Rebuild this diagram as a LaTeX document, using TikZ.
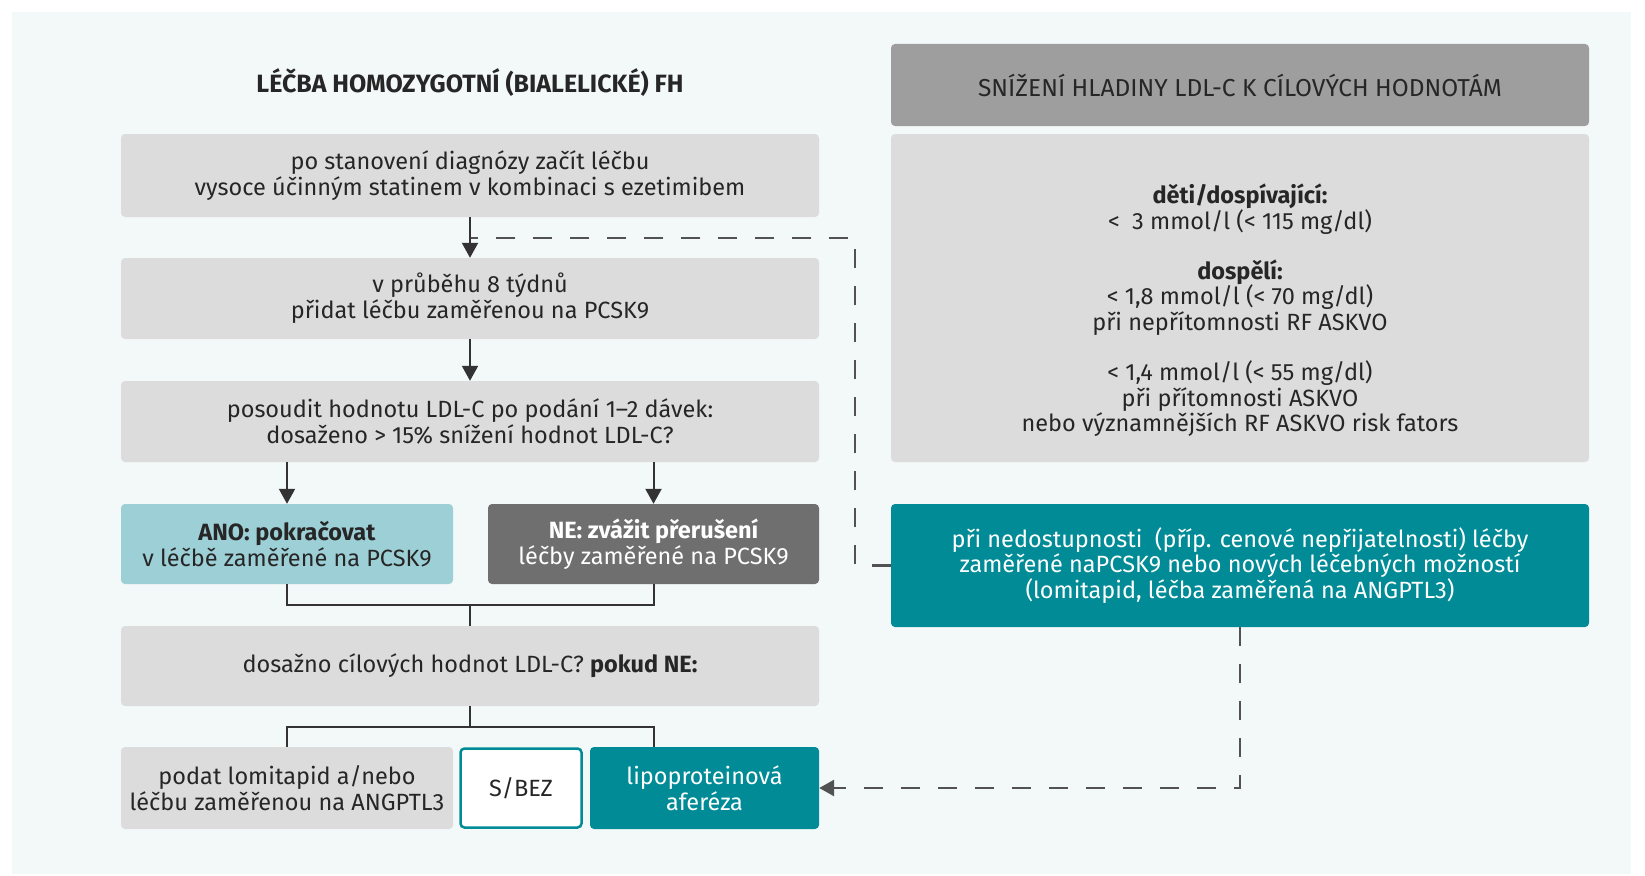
\documentclass[tikz,border=0pt]{standalone}
\usepackage{fontspec}
\setmainfont{Fira Sans}
\usetikzlibrary{arrows.meta}
\definecolor{bgc}{HTML}{F3F8F8}
\definecolor{boxgray}{HTML}{DCDCDC}
\definecolor{hdrgray}{HTML}{9E9E9E}
\definecolor{darkgray}{HTML}{6F6F6F}
\definecolor{lightblue}{HTML}{9DCFD6}
\definecolor{tealc}{HTML}{008B96}
\definecolor{txt}{HTML}{262626}
\definecolor{linec}{HTML}{333333}
\tikzset{
  basebox/.style={rounded corners=4pt, inner sep=0pt, align=center, text=txt,
    font=\fontsize{23.5}{25.7}\selectfont},
  graybox/.style={basebox, fill=boxgray},
  tip/.style={-{Triangle[width=16pt,length=15pt]}},
  arr/.style={line width=2pt, draw=linec, tip},
  conn/.style={line width=2pt, draw=linec},
  dashline/.style={line width=2.8pt, draw=linec!85, dash pattern=on 19pt off 18pt},
}
\begin{document}
\begin{tikzpicture}[x=1pt,y=-1pt]
\useasboundingbox (0,0) rectangle (1645,875);
\fill[bgc] (12,12) rectangle (1631,874);

\node[font=\fontsize{25}{27}\selectfont\bfseries, text=txt] (title) at (470,83) {LÉČBA HOMOZYGOTNÍ (BIALELICKÉ) FH};

\node[graybox, minimum width=698pt, minimum height=83pt] (b1) at (470,175.5)
  {po stanovení diagnózy začít léčbu\\vysoce účinným statinem v kombinaci s ezetimibem};
\node[graybox, minimum width=698pt, minimum height=81pt] (b2) at (470,298.5)
  {v průběhu 8 týdnů\\přidat léčbu zaměřenou na PCSK9};
\node[graybox, minimum width=698pt, minimum height=81pt] (b3) at (470,421.5)
  {posoudit hodnotu LDL-C po podání 1–2 dávek:\\dosaženo > 15\% snížení hodnot LDL-C?};
\node[basebox, fill=lightblue, minimum width=332pt, minimum height=80pt] (ano) at (287,544)
  {\textbf{ANO: pokračovat}\\v léčbě zaměřené na PCSK9};
\node[basebox, fill=darkgray, text=white, minimum width=331pt, minimum height=80pt] (ne) at (653.5,544)
  {\textbf{NE: zvážit přerušení}\\léčby zaměřené na PCSK9};
\node[graybox, minimum width=698pt, minimum height=80pt] (b4) at (470,666)
  {dosažno cílových hodnot LDL-C? \textbf{pokud NE:}};
\node[graybox, minimum width=332pt, minimum height=82pt] (lom) at (287,788)
  {podat lomitapid a/nebo\\léčbu zaměřenou na ANGPTL3};
\node[basebox, fill=white, draw=tealc, line width=2.5pt, minimum width=121pt, minimum height=79pt] (sbez) at (521,788)
  {S/BEZ};
\node[basebox, fill=tealc, text=white, minimum width=229pt, minimum height=82pt] (lipo) at (704.5,788)
  {lipoproteinová\\aferéza};

\node[basebox, fill=hdrgray, font=\fontsize{24.5}{26}\selectfont, minimum width=698pt, minimum height=82pt] (hdr) at (1240,85)
  {SNÍŽENÍ HLADINY LDL-C K CÍLOVÝCH HODNOTÁM};
\node[graybox, minimum width=698pt, minimum height=328pt] (big) at (1240,298) {};
\node[basebox, anchor=north] (bigtxt) at (1240,184)
  {\textbf{děti/dospívající:}\\<\ \ 3 mmol/l (< 115 mg/dl)\\[24pt]
   \textbf{dospělí:}\\< 1,8 mmol/l (< 70 mg/dl)\\při nepřítomnosti RF ASKVO\\[24pt]
   < 1,4 mmol/l (< 55 mg/dl)\\při přítomnosti ASKVO\\nebo významnějších RF ASKVO risk fators};
\node[basebox, fill=tealc, text=white, minimum width=698pt, minimum height=123pt] (teal) at (1240,565.5)
  {při nedostupnosti\ \ (příp. cenové nepřijatelnosti) léčby\\zaměřené naPCSK9 nebo nových léčebných možností\\(lomitapid, léčba zaměřená na ANGPTL3)};

% connectors
\coordinate (d1) at (855,238);
\draw[dashline] (teal.west) -| (d1) -- (b1.south |- d1);
\draw[arr] (b1.south) -- (b2.north);
\draw[arr] (b2.south) -- (b3.north);
\draw[arr] (b3.south -| ano.north) -- (ano.north);
\draw[arr] (b3.south -| ne.north) -- (ne.north);
\coordinate (j1) at (470,605);
\draw[conn] (ano.south) |- (j1) -| (ne.south);
\draw[conn] (j1) -- (b4.north);
\coordinate (j2) at (470,727);
\draw[conn] (b4.south) -- (j2);
\draw[conn] (lom.north) |- (j2) -| (lipo.north -| ne.south);
\draw[dashline, tip] (teal.south) |- (lipo.east);
\end{tikzpicture}
\end{document}
